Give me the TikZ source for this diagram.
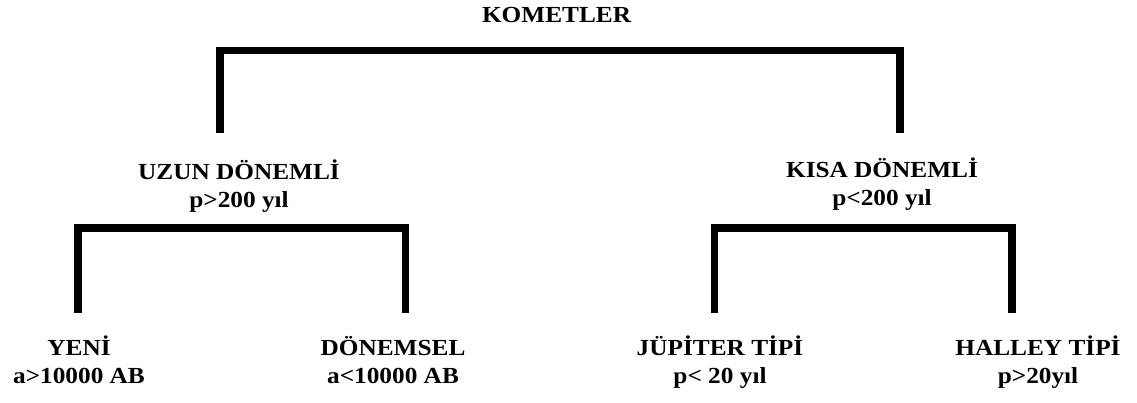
\documentclass[tikz,border=0pt]{standalone}
\usepackage{fontspec}
\setmainfont{Liberation Serif}[FakeStretch=1.1]

\begin{document}
\begin{tikzpicture}[x=1pt, y=-1pt,
                etiket/.style={font=\fontsize{23}{28}\selectfont\bfseries, align=center, inner sep=0pt, anchor=base},
                bracket/.style={line width=7.5pt, line join=miter}]
                \useasboundingbox (0,0) rectangle (1137,403);
                % labels
                \node[etiket] (kometler) at (556.5,23) {KOMETLER};
                \node[etiket] (uzun) at (239,208) {UZUN DÖNEMLİ\\p>200 yıl};
                \node[etiket] (kisa) at (882,206) {KISA DÖNEMLİ\\p<200 yıl};
                \node[etiket] (yeni) at (79,383) {YENİ\\a>10000 AB};
                \node[etiket] (donemsel) at (393,383) {DÖNEMSEL\\a<10000 AB};
                \node[etiket] (jupiter) at (720,383) {JÜPİTER TİPİ\\p< 20 yıl};
                \node[etiket] (halley) at (1038,383) {HALLEY TİPİ\\p>20yıl};
                % brackets
                \coordinate (kL) at (220,133);
                \coordinate (kR) at (900,133);
                \coordinate (kBar) at (560,50.5);
                \coordinate (uL) at (78,313);
                \coordinate (uR) at (405.5,313);
                \coordinate (uBar) at (240,228);
                \coordinate (sL) at (714.5,313);
                \coordinate (sR) at (1012,313);
                \coordinate (sBar) at (860,228);
                \draw[bracket] (kL) |- (kBar) -| (kR);
                \draw[bracket] (uL) |- (uBar) -| (uR);
                \draw[bracket] (sL) |- (sBar) -| (sR);
            \end{tikzpicture}
\end{document}
